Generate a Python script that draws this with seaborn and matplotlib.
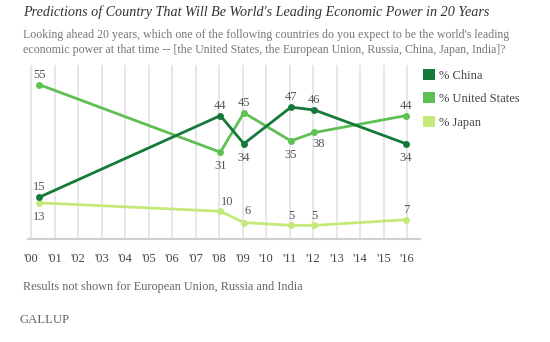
import numpy as np
import pandas as pd
import seaborn as sns
import matplotlib
matplotlib.use("Agg")
import matplotlib.pyplot as plt
from matplotlib.patches import Patch

# ---- data ----
survey_year = [2000.35, 2008.05, 2009.05, 2011.05, 2012.05, 2015.95]
china = [15, 44, 34, 47, 46, 34]
united_states = [55, 31, 45, 35, 38, 44]
japan = [13, 10, 6, 5, 5, 7]
series_names = ["% China", "% United States", "% Japan"]
tick_years = list(range(2000, 2017))
tick_labels = ["'%02d" % (y % 100) for y in tick_years]

title = "Predictions of Country That Will Be World's Leading Economic Power in 20 Years"
subtitle = ("Looking ahead 20 years, which one of the following countries do you expect to be the world's leading\n"
            "economic power at that time -- [the United States, the European Union, Russia, China, Japan, India]?")
footnote = "Results not shown for European Union, Russia and India"

# ---- styling ----
colors = {"% China": "#15793a", "% United States": "#5ebf52", "% Japan": "#c4e87a"}
# label offsets in points (dx, dy) per series
offsets = {
    "% China": [(0, 7), (0, 7), (0, -10), (0, 7), (0, 7), (0, -10)],
    "% United States": [(0, 7), (0, -10), (0, 7), (0, -10), (3, -8), (0, 7)],
    "% Japan": [(0, -10), (5, 7), (3, 8), (0, 7), (0, 7), (0, 7)],
}

df = pd.DataFrame({
    "year": survey_year * 3,
    "value": china + united_states + japan,
    "series": [series_names[0]] * 6 + [series_names[1]] * 6 + [series_names[2]] * 6,
})

sns.set_theme(style="white")
plt.rcParams["font.family"] = ["Liberation Serif", "DejaVu Serif"]

fig = plt.figure(figsize=(5.5, 3.42), dpi=100)
ax = fig.add_axes([0.051, 0.30, 0.713, 0.51])

for x in tick_years:
    ax.axvline(x, color="#e3e3e3", lw=1.2, zorder=0)

sns.lineplot(data=df, x="year", y="value", hue="series", palette=colors,
             hue_order=series_names[::-1], marker="o", markersize=5,
             markeredgewidth=0, linewidth=2.0, ax=ax, legend=False, zorder=3)

for name, vals in zip(series_names, [china, united_states, japan]):
    for x, v, (dx, dy) in zip(survey_year, vals, offsets[name]):
        ax.annotate(str(v), (x, v), xytext=(dx, dy), textcoords="offset points",
                    ha="center", va="center", fontsize=9, color="#555555")

ax.set_xlim(1999.87, 2016.55)
ax.set_ylim(0, 62)
ax.set_xticks(tick_years)
ax.set_xticklabels(tick_labels, fontsize=9, color="#444444")
ax.set_yticks([])
ax.set_xlabel("")
ax.set_ylabel("")
for s in ["top", "right", "left"]:
    ax.spines[s].set_visible(False)
ax.spines["bottom"].set_color("#d0d0d0")
ax.spines["bottom"].set_linewidth(1.5)
ax.tick_params(axis="x", length=0, pad=10)

handles = [Patch(facecolor=colors[n], edgecolor="none") for n in series_names]
fig.legend(handles, series_names, loc="upper left", bbox_to_anchor=(0.748, 0.832),
           frameon=False, fontsize=9, handlelength=1.0, handleheight=1.0,
           labelspacing=0.85, handletextpad=0.3, labelcolor="#444444")

fig.text(0.042, 0.965, title, fontsize=10.2, style="italic", color="#333333",
         va="center", ha="left")
fig.text(0.042, 0.876, subtitle, fontsize=8.6, color="#777777", va="center",
         ha="left", linespacing=1.3)
fig.text(0.042, 0.16, footnote, fontsize=8.8, color="#666666", va="center", ha="left")
fig.text(0.036, 0.064, "GALLUP", fontsize=9.2, color="#666666", va="center", ha="left")

fig.savefig("out.png", dpi=100, facecolor="white")
